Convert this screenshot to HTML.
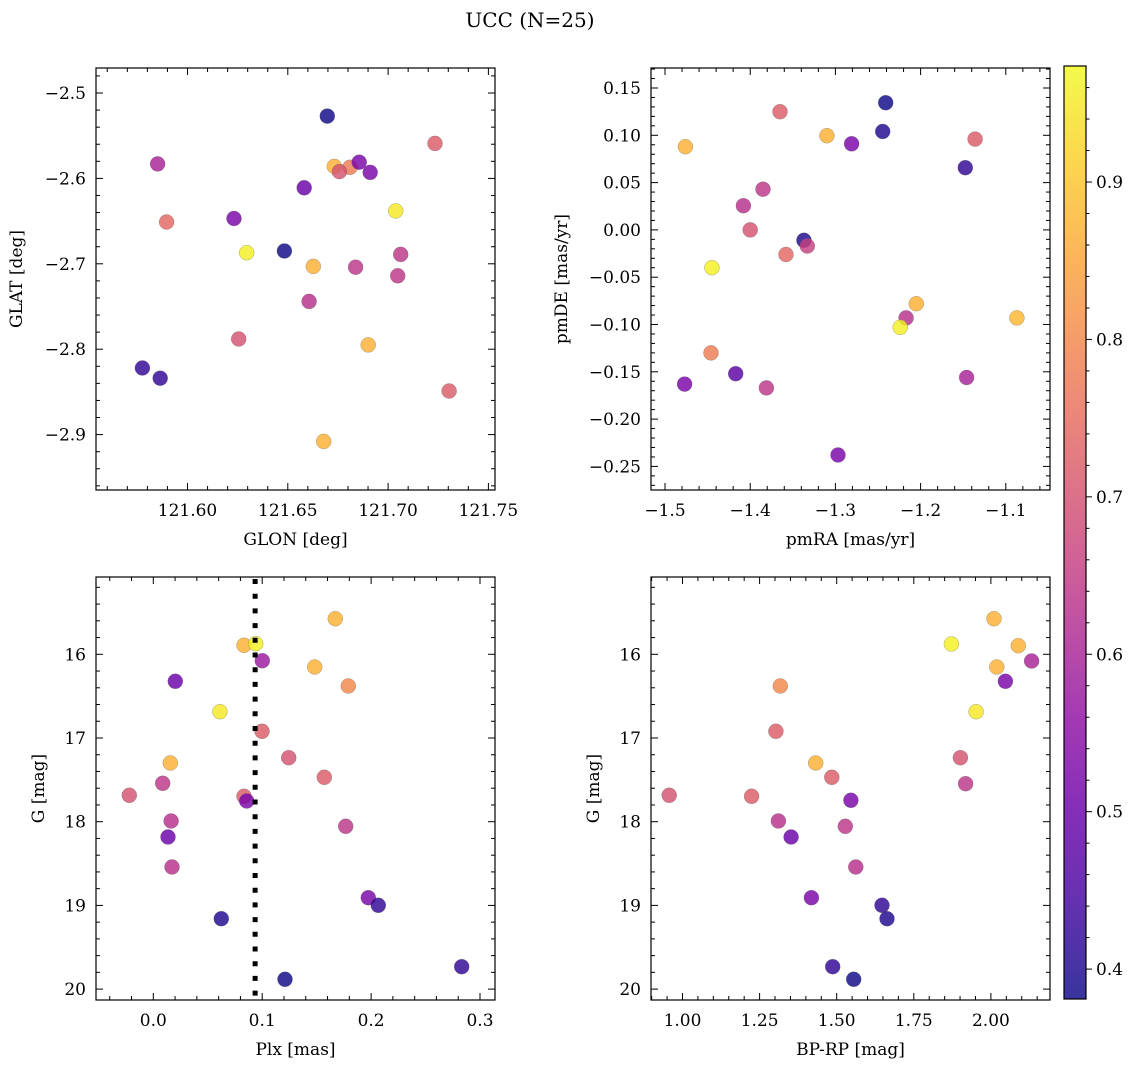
<!DOCTYPE html>
<html><head><meta charset="utf-8"><style>
html,body{margin:0;padding:0;background:#fff;}
svg{display:block;font-family:"DejaVu Serif","Liberation Serif",serif;}
</style></head><body>
<svg id="fig" width="1136" height="1067" viewBox="0 0 1136 1067" xmlns="http://www.w3.org/2000/svg">
<text x="530" y="27" font-size="20" text-anchor="middle">UCC (N=25)</text>
</svg>
<script>
// ---- data ----
const glon = [121.6697,121.7234,121.5851,121.6732,121.681,121.6757,121.6856,121.6911,121.6582,121.5896,121.6232,121.7038,121.6295,121.6483,121.6627,121.6838,121.7063,121.7048,121.6606,121.6255,121.6901,121.5775,121.5864,121.7304,121.6679];
const glat = [-2.527,-2.559,-2.583,-2.586,-2.587,-2.592,-2.581,-2.593,-2.611,-2.651,-2.647,-2.638,-2.687,-2.685,-2.703,-2.704,-2.689,-2.714,-2.744,-2.788,-2.795,-2.822,-2.834,-2.849,-2.908];
const cTL = [0.38,0.72,0.60,0.87,0.78,0.70,0.52,0.52,0.50,0.74,0.52,0.95,0.96,0.38,0.87,0.64,0.64,0.64,0.63,0.70,0.87,0.42,0.42,0.72,0.87];

const pmra = [-1.241,-1.365,-1.310,-1.281,-1.2445,-1.136,-1.476,-1.1475,-1.385,-1.408,-1.400,-1.337,-1.333,-1.358,-1.445,-1.205,-1.217,-1.224,-1.087,-1.446,-1.477,-1.417,-1.381,-1.146,-1.297];
const pmde = [0.1345,0.125,0.0996,0.091,0.104,0.096,0.088,0.0658,0.043,0.0256,0.000,-0.011,-0.017,-0.026,-0.040,-0.078,-0.093,-0.103,-0.093,-0.130,-0.163,-0.152,-0.167,-0.156,-0.238];
const cTR = [0.38,0.72,0.87,0.52,0.40,0.72,0.87,0.42,0.64,0.63,0.70,0.40,0.66,0.74,0.96,0.87,0.63,0.96,0.88,0.78,0.52,0.48,0.64,0.60,0.52];

const plx = [0.1671,0.0833,0.0940,0.1001,0.0202,0.1482,0.1791,0.0612,0.0998,0.1243,0.0156,0.157,0.0086,-0.022,0.0833,0.0858,0.0163,0.0135,0.1767,0.0172,0.1974,0.2066,0.0624,0.1209,0.2832];
const gmagL = [15.575,15.892,15.873,16.076,16.323,16.152,16.379,16.686,16.920,17.235,17.299,17.470,17.541,17.685,17.697,17.753,17.992,18.183,18.055,18.541,18.908,18.999,19.159,19.883,19.732];
const cBL = [0.87,0.87,0.96,0.58,0.50,0.87,0.80,0.95,0.72,0.70,0.87,0.72,0.64,0.70,0.72,0.52,0.63,0.50,0.64,0.63,0.52,0.42,0.40,0.38,0.42];
const plxLine = [0.0935];

const bprp = [2.010,1.872,2.089,2.132,2.019,2.047,1.317,1.952,1.303,1.432,1.484,1.901,1.918,0.957,1.224,1.546,1.311,1.528,1.352,1.562,1.418,1.647,1.663,1.487,1.555];
const gmagR = [15.575,15.877,15.897,16.080,16.152,16.323,16.379,16.686,16.920,17.299,17.470,17.235,17.546,17.685,17.697,17.744,17.992,18.055,18.183,18.541,18.908,18.999,19.159,19.732,19.883];
const cBR = [0.87,0.96,0.87,0.60,0.87,0.52,0.80,0.95,0.72,0.87,0.72,0.70,0.64,0.70,0.72,0.52,0.63,0.64,0.50,0.63,0.52,0.42,0.40,0.42,0.38];

const cbTicks = [0.4,0.5,0.6,0.7,0.8,0.9];

// ---- helpers ----
const NS="http://www.w3.org/2000/svg";
const svg=document.getElementById('fig');
function mk(tag,attrs,parent){const e=document.createElementNS(NS,tag);for(const k in attrs)e.setAttribute(k,attrs[k]);(parent||svg).appendChild(e);return e;}
const plasma=[[13,8,135],[65,4,157],[106,0,168],[143,13,164],[177,42,144],[204,71,120],[225,100,98],[242,132,75],[252,166,54],[252,206,37],[240,249,33]];
const VMIN=0.381,VMAX=0.9737;
function cmap(v){let t=(v-VMIN)/(VMAX-VMIN);t=Math.max(0,Math.min(1,t));const f=t*10;const i=Math.min(9,Math.floor(f));const r=f-i;const a=plasma[i],b=plasma[i+1];return 'rgb('+[0,1,2].map(k=>Math.round(a[k]+(b[k]-a[k])*r)).join(',')+')';}
function lin(d0,d1,r0,r1){return v=>r0+(v-d0)*(r1-r0)/(d1-d0);}
function fmt(v,dec){const s=Math.abs(v).toFixed(dec);return (v<-1e-9?'\u2212':'')+s;}
const FS=17;

function panel(o){
  const g=mk('g',{});
  
  
  const {x0,x1,y0,y1}=o;
  for(let i=0;i<o.xs.length;i++){
    const c=mk('circle',{cx:o.sx(o.xs[i]).toFixed(1),cy:o.sy(o.ys[i]).toFixed(1),r:7.5,fill:cmap(o.cs[i]),'fill-opacity':0.82,stroke:'rgba(90,90,90,0.5)','stroke-width':0.5},g);
    
    
  }
  if(o.extra)o.extra(g);
  const fr=mk('rect',{x:x0,y:y0,width:x1-x0,height:y1-y0,fill:'none',stroke:'#000','stroke-width':1.2},g);
  
  
  const xa=o.sx, ya=o.sy;
  for(let k=-200;k<=200;k++){
    const v=o.xt0+k*o.xminor; const px=xa(v);
    if(px<x0+0.5||px>x1-0.5)continue;
    const major=Math.abs(((v-o.xt0)/o.xmajor)-Math.round((v-o.xt0)/o.xmajor))<1e-6;
    const L=major?7:4;
    mk('line',{x1:px,y1:y1,x2:px,y2:y1-L,stroke:'#000','stroke-width':1},g);
    mk('line',{x1:px,y1:y0,x2:px,y2:y0+L,stroke:'#000','stroke-width':1},g);
    if(major){const t=mk('text',{x:px,y:y1+26,'font-size':FS,'text-anchor':'middle'},g);t.textContent=fmt(v,o.xdec);
      
      }
  }
  for(let k=-200;k<=200;k++){
    const v=o.yt0+k*o.yminor; const py=ya(v);
    if(py<y0+0.5||py>y1-0.5)continue;
    const major=Math.abs(((v-o.yt0)/o.ymajor)-Math.round((v-o.yt0)/o.ymajor))<1e-6;
    const L=major?7:4;
    mk('line',{x1:x0,y1:py,x2:x0+L,y2:py,stroke:'#000','stroke-width':1},g);
    mk('line',{x1:x1,y1:py,x2:x1-L,y2:py,stroke:'#000','stroke-width':1},g);
    if(major){const t=mk('text',{x:x0-10,y:py+6,'font-size':FS,'text-anchor':'end'},g);t.textContent=fmt(v,o.ydec);
      
      }
  }
  const xl=mk('text',{x:(x0+x1)/2,y:y1+55,'font-size':FS,'text-anchor':'middle'},g);xl.textContent=o.xlabel;
  
  
  const yl=mk('text',{x:o.ylx,y:(y0+y1)/2,'font-size':FS,'text-anchor':'middle',transform:'rotate(-90 '+o.ylx+' '+((y0+y1)/2)+')'},g);yl.textContent=o.ylabel;
  
  
}

panel({name:'glon-glat-panel',x0:96,x1:495,y0:68,y1:490,xs:glon,ys:glat,cs:cTL,
  sx:lin(121.60,121.65,187.5,287.8),sy:lin(-2.5,-2.6,93,178.4),
  xt0:121.60,xmajor:0.05,xminor:0.01,xdec:2,yt0:-2.5,ymajor:0.1,yminor:0.02,ydec:1,
  xlabel:'GLON [deg]',ylabel:'GLAT [deg]',ylx:22});
panel({name:'proper-motion-panel',x0:651,x1:1050,y0:68,y1:490,xs:pmra,ys:pmde,cs:cTR,
  sx:lin(-1.5,-1.4,665,750.2),sy:lin(0.15,0.10,88,135.3),
  xt0:-1.5,xmajor:0.1,xminor:0.02,xdec:1,yt0:0.15,ymajor:0.05,yminor:0.01,ydec:2,
  xlabel:'pmRA [mas/yr]',ylabel:'pmDE [mas/yr]',ylx:567});
panel({name:'parallax-magnitude-panel',x0:96,x1:495,y0:577,y1:1000,xs:plx,ys:gmagL,cs:cBL,
  sx:lin(0,0.1,153.3,262.2),sy:lin(16,17,654.3,738),
  xt0:0,xmajor:0.1,xminor:0.02,xdec:1,yt0:16,ymajor:1,yminor:0.2,ydec:0,
  xlabel:'Plx [mas]',ylabel:'G [mag]',ylx:44,
  extra:function(g){const sx=lin(0,0.1,153.3,262.2);const x=sx(plxLine[0]);
    const l=mk('line',{x1:x,y1:579,x2:x,y2:1000,stroke:'#000','stroke-width':5,'stroke-dasharray':'5 9.7'},g);
    
    }});
panel({name:'color-magnitude-panel',x0:651,x1:1050,y0:577,y1:1000,xs:bprp,ys:gmagR,cs:cBR,
  sx:lin(1,1.25,682.5,759.6),sy:lin(16,17,654.3,738),
  xt0:1,xmajor:0.25,xminor:0.05,xdec:2,yt0:16,ymajor:1,yminor:0.2,ydec:0,
  xlabel:'BP-RP [mag]',ylabel:'G [mag]',ylx:599});

const defs=mk('defs',{});
const lg=mk('linearGradient',{id:'cbg',x1:0,y1:1,x2:0,y2:0},defs);
for(let i=0;i<=20;i++){const v=VMIN+(VMAX-VMIN)*i/20;mk('stop',{offset:(i/20),'stop-color':cmap(v)},lg);}
const cb=mk('g',{});


const cbY0=66,cbY1=999,cbX0=1064,cbX1=1086;
mk('rect',{x:cbX0,y:cbY0,width:cbX1-cbX0,height:cbY1-cbY0,fill:'url(#cbg)','fill-opacity':0.82},cb);
mk('rect',{x:cbX0,y:cbY0,width:cbX1-cbX0,height:cbY1-cbY0,fill:'none',stroke:'#000','stroke-width':1.2},cb);
const cy=lin(VMIN,VMAX,cbY1,cbY0);
for(let v=0.40;v<=0.97;v+=0.02){const py=cy(v);const major=Math.abs(v*10-Math.round(v*10))<1e-6;
  mk('line',{x1:cbX1,y1:py,x2:cbX1+(major?6:3.5),y2:py,stroke:'#000','stroke-width':1},cb);}
for(const v of cbTicks){const t=mk('text',{x:cbX1+10,y:cy(v)+6,'font-size':FS},cb);t.textContent=v.toFixed(1);
  
  }
</script>
</body></html>
